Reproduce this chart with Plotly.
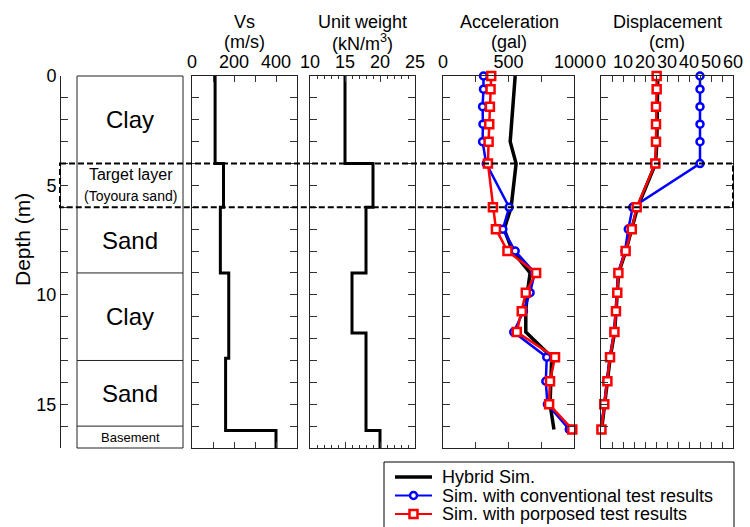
import plotly.graph_objects as go

# ---------------- data ----------------
layer_names = ["Clay", "Target layer", "Sand", "Clay", "Sand", "Basement"]
layer_tops = [0, 4, 6, 9, 13, 16]
layer_bottoms = [4, 6, 9, 13, 16, 17]
target_top, target_bottom = 4, 6

vs_bounds = [0, 4, 6, 9, 12.9, 16.2, 17]
vs_vals = [110, 150, 135, 175, 160, 400]

uw_bounds = [0, 4, 6, 9, 11.75, 16.2, 17]
uw_vals = [15, 19, 18, 16, 18, 20]

depth_pts = [0, 0.6, 1.4, 2.2, 3.0, 4.0, 6.0, 7.0, 8.0, 9.0, 9.9, 10.75, 11.7, 12.85, 13.95, 15.0, 16.15]
acc_hybrid = [551, 543, 533, 523, 513, 558, 520, 467, 530, 665, 644, 632, 632, 830, 822, 817, 847]
acc_conv = [309, 309, 302, 305, 302, 330, 505, 457, 551, 700, 665, 614, 540, 792, 785, 797, 964]
acc_prop = [368, 363, 358, 353, 348, 343, 381, 404, 492, 711, 632, 601, 563, 855, 817, 810, 987]

disp_hybrid = [25.8, 25.8, 25.6, 25.5, 25.4, 24.8, 16.6, 14.0, 11.3, 8.0, 7.5, 6.9, 6.2, 4.2, 3.0, 1.6, 0.3]
disp_conv = [45, 45, 45, 45, 45, 45, 14.4, 12.4, 10.9, 7.8, 7.3, 6.7, 6.0, 4.0, 2.8, 1.4, 0.1]
disp_prop = [25.3, 25.3, 25.0, 25.0, 25.0, 24.7, 16.2, 14.0, 11.2, 7.9, 7.4, 6.8, 6.1, 4.1, 2.9, 1.5, 0.2]

series_names = ["Hybrid Sim.", "Sim. with conventional test results", "Sim. with porposed test results"]

# ---------------- layout helpers ----------------
W, H = 750, 527
FONT = "Liberation Sans, Arial, sans-serif"


def fx(p):
    return p / W


def fy(p):
    return 1 - p / H


Y0, Y1 = 76, 448
ydom = [fy(Y1), fy(Y0)]
DEPTH_RANGE = [17, 0]


def step_xy(bounds, vals):
    xs, ys = [], []
    for i, v in enumerate(vals):
        xs += [v, v]
        ys += [bounds[i], bounds[i + 1]]
    return xs, ys


fig = go.Figure()

BLACK = dict(color="black", width=3.5)
BLUE_LINE = dict(color="#0000FF", width=2.5)
RED_LINE = dict(color="#FF0000", width=2.5)
BLUE_MK = dict(symbol="circle", size=7, color="white", line=dict(color="#0000FF", width=2.5))
RED_MK = dict(symbol="square", size=8, color="white", line=dict(color="#FF0000", width=2.5))

# Vs profile
x, y = step_xy(vs_bounds, vs_vals)
fig.add_trace(go.Scatter(x=x, y=y, mode="lines", line=dict(color="black", width=3),
                         xaxis="x2", yaxis="y2", showlegend=False))
# Unit weight profile
x, y = step_xy(uw_bounds, uw_vals)
fig.add_trace(go.Scatter(x=x, y=y, mode="lines", line=dict(color="black", width=3),
                         xaxis="x3", yaxis="y3", showlegend=False))

# Acceleration
fig.add_trace(go.Scatter(x=acc_hybrid, y=depth_pts, mode="lines", line=BLACK,
                         xaxis="x4", yaxis="y4", showlegend=False))
fig.add_trace(go.Scatter(x=acc_conv, y=depth_pts, mode="lines+markers", line=BLUE_LINE, marker=BLUE_MK,
                         xaxis="x4", yaxis="y4", showlegend=False, cliponaxis=False))
fig.add_trace(go.Scatter(x=acc_prop, y=depth_pts, mode="lines+markers", line=RED_LINE, marker=RED_MK,
                         xaxis="x4", yaxis="y4", showlegend=False, cliponaxis=False))
# Displacement
fig.add_trace(go.Scatter(x=disp_hybrid, y=depth_pts, mode="lines", line=BLACK,
                         xaxis="x5", yaxis="y5", showlegend=False))
fig.add_trace(go.Scatter(x=disp_conv, y=depth_pts, mode="lines+markers", line=BLUE_LINE, marker=BLUE_MK,
                         xaxis="x5", yaxis="y5", showlegend=False, cliponaxis=False))
fig.add_trace(go.Scatter(x=disp_prop, y=depth_pts, mode="lines+markers", line=RED_LINE, marker=RED_MK,
                         xaxis="x5", yaxis="y5", showlegend=False, cliponaxis=False))

# Manual legend (rows 1..3 on a hidden axis)
leg_styles = [(BLACK, None), (BLUE_LINE, BLUE_MK), (RED_LINE, RED_MK)]
for r, (name, (ln, mk)) in enumerate(zip(series_names, leg_styles), start=1):
    fig.add_trace(go.Scatter(x=[11, 48], y=[r, r], mode="lines",
                             line=dict(color=ln["color"], width=3.5 if mk is None else 2),
                             xaxis="x6", yaxis="y6", showlegend=False, hoverinfo="skip"))
    if mk is not None:
        fig.add_trace(go.Scatter(x=[29.5], y=[r], mode="markers", marker=mk,
                                 xaxis="x6", yaxis="y6", showlegend=False, hoverinfo="skip"))

tickfont = dict(family=FONT, size=18, color="black")


def top_xaxis(dom, rng, dtick, minor_dtick, anchor, minor_len=6):
    return dict(domain=[fx(dom[0]), fx(dom[1])], range=rng, side="top", anchor=anchor,
                dtick=dtick, tick0=rng[0], ticks="inside", ticklen=6, tickcolor="#333", tickwidth=1,
                minor=dict(dtick=minor_dtick, tick0=rng[0], ticks="inside", ticklen=minor_len, tickcolor="#333"),
                showline=True, linecolor="#222", linewidth=1, mirror="ticks", tickangle=0,
                automargin=False, showgrid=False, zeroline=False, tickfont=tickfont, fixedrange=True)


def panel_yaxis(anchor):
    return dict(domain=ydom, range=DEPTH_RANGE, anchor=anchor, dtick=1, tick0=0,
                ticks="inside", ticklen=7, tickcolor="#333", showticklabels=False,
                showline=True, linecolor="#222", linewidth=1, mirror="ticks", automargin=False,
                showgrid=False, zeroline=False, fixedrange=True)


layout = dict(
    template="none",
    width=W, height=H, margin=dict(l=0, r=0, t=0, b=0, pad=0), autosize=False,
    paper_bgcolor="white", plot_bgcolor="rgba(0,0,0,0)",
    font=dict(family=FONT, size=18, color="black"),
    showlegend=False,
    xaxis=dict(domain=[fx(77), fx(183)], range=[0, 1], visible=False, anchor="y",
               automargin=False, fixedrange=True),
    yaxis=dict(domain=ydom, range=DEPTH_RANGE, anchor="free", position=fx(60), side="left",
               dtick=5, tick0=0, ticks="inside", ticklen=7, tickcolor="#333",
               minor=dict(dtick=1, tick0=0, ticks="inside", ticklen=7, tickcolor="#333"),
               showline=True, linecolor="#222", linewidth=1, showgrid=False, zeroline=False,
               automargin=False, tickfont=tickfont, fixedrange=True),
    xaxis2=top_xaxis((192, 297), [0, 500], 200, 100, "y2"),
    yaxis2=panel_yaxis("x2"),
    xaxis3=top_xaxis((310, 415), [10, 25], 5, 1, "y3", minor_len=3),
    yaxis3=panel_yaxis("x3"),
    xaxis4=top_xaxis((443, 574), [0, 1000], 500, 250, "y4"),
    yaxis4=panel_yaxis("x4"),
    xaxis5=top_xaxis((601, 733), [0, 60], 10, 5, "y5"),
    yaxis5=panel_yaxis("x5"),
    xaxis6=dict(domain=[fx(384), fx(734)], range=[0, 350], visible=False, anchor="y6",
                automargin=False, fixedrange=True),
    yaxis6=dict(domain=[0, fy(462)], range=[3.703, 0.189], visible=False, anchor="x6",
                automargin=False, fixedrange=True),
)
fig.update_layout(**layout)

shapes = []
# layer column frame
shapes.append(dict(type="rect", xref="x domain", yref="y domain", x0=0, x1=1, y0=0, y1=1,
                   line=dict(color="#222", width=1)))
# layer boundaries (target-layer bounds drawn dashed below)
for b in layer_tops[1:]:
    if b in (target_top, target_bottom):
        continue
    shapes.append(dict(type="line", xref="x domain", yref="y", x0=0, x1=1, y0=b, y1=b,
                       line=dict(color="#222", width=1)))
# dashed target-layer rectangle across all panels
shapes.append(dict(type="rect", xref="paper", yref="y", x0=fx(60), x1=fx(733),
                   y0=target_top, y1=target_bottom,
                   line=dict(color="black", width=2, dash="6px,3px"), layer="above"))
# legend box
shapes.append(dict(type="rect", xref="paper", yref="paper", x0=fx(384), x1=fx(734), y0=fy(545), y1=fy(462),
                   line=dict(color="black", width=1), fillcolor="rgba(0,0,0,0)"))
fig.update_layout(shapes=shapes)

ann = []
# layer labels
for name, t, b in zip(layer_names, layer_tops, layer_bottoms):
    mid = (t + b) / 2
    if name == "Target layer":
        text = "Target layer<br><span style='font-size:14px'>(Toyoura sand)</span>"
        size = 16
    elif name == "Basement":
        text, size = name, 13
    else:
        text, size = name, 24
    ann.append(dict(xref="x domain", yref="y", x=0.5, y=mid, text=text, showarrow=False,
                    font=dict(family=FONT, size=size, color="black"), xanchor="center", yanchor="middle"))

# panel titles
titles = [("Vs", "(m/s)", 244.5), ("Unit weight", "(kN/m<sup>3</sup>)", 362),
          ("Acceleration", "(gal)", 509), ("Displacement", "(cm)", 667)]
for t1, t2, cx in titles:
    ann.append(dict(xref="paper", yref="paper", x=fx(cx), y=fy(22), text=t1, showarrow=False,
                    font=dict(family=FONT, size=18), xanchor="center", yanchor="middle"))
    ann.append(dict(xref="paper", yref="paper", x=fx(cx), y=fy(42), text=t2, showarrow=False,
                    font=dict(family=FONT, size=18), xanchor="center", yanchor="middle"))

# depth title
ann.append(dict(xref="paper", yref="paper", x=fx(23), y=fy(240), text="Depth (m)", textangle=-90,
                showarrow=False, font=dict(family=FONT, size=21), xanchor="center", yanchor="middle"))

# legend texts
for r, name in enumerate(series_names, start=1):
    ann.append(dict(xref="x6", yref="y6", x=56, y=r, text=name, showarrow=False,
                    font=dict(family=FONT, size=18), xanchor="left", yanchor="middle"))

fig.update_layout(annotations=ann)

fig.write_html("out.html")
